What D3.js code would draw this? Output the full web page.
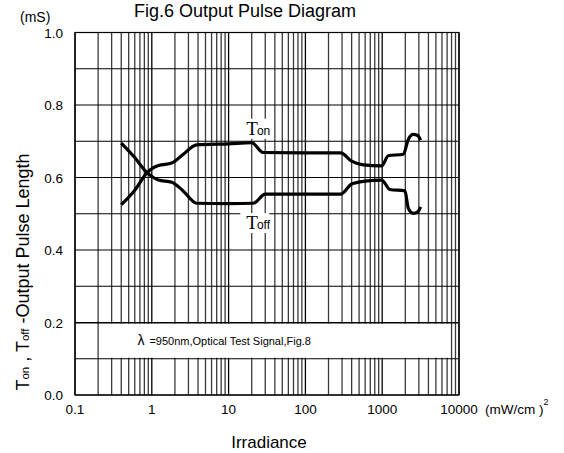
<!DOCTYPE html>
<html>
<head>
<meta charset="utf-8">
<script src="https://cdn.jsdelivr.net/npm/d3@7"></script>
<style>
  body { margin: 0; background: #fff; }
  text { font-family: "Liberation Sans", Arial, sans-serif; fill: #000; }
</style>
</head>
<body>
<div id="chart"></div>
<script>
// data
var xTicks = [0.1, 1, 10, 100, 1000, 10000];
var xTickLabels = ["0.1", "1", "10", "100", "1000", "10000"];
var yTicks = [0, 0.2, 0.4, 0.6, 0.8, 1.0];
var yTickLabels = ["0.0", "0.2", "0.4", "0.6", "0.8", "1.0"];

var tonX = [0.4, 0.6, 0.86, 1.05, 1.22, 1.82, 2.5, 3.85, 10, 20, 28, 100, 288, 400, 567, 985, 1200, 1885, 2187, 2540, 2900, 3160];
var tonY = [0.525, 0.565, 0.612, 0.627, 0.633, 0.640, 0.662, 0.690, 0.693, 0.696, 0.669, 0.668, 0.668, 0.645, 0.635, 0.632, 0.660, 0.664, 0.705, 0.719, 0.716, 0.703];

var toffX = [0.4, 0.6, 0.86, 1.05, 1.22, 1.82, 2.5, 3.85, 10, 21, 30, 100, 288, 400, 600, 985, 1260, 1980, 2187, 2540, 2900, 3160];
var toffY = [0.695, 0.655, 0.614, 0.600, 0.593, 0.587, 0.565, 0.529, 0.528, 0.529, 0.554, 0.554, 0.554, 0.582, 0.590, 0.593, 0.567, 0.563, 0.515, 0.501, 0.505, 0.519];

var W = 564, H = 453;
var margin = { top: 32.5, right: 105, bottom: 58, left: 75 };
var width = W - margin.left - margin.right,
    height = H - margin.top - margin.bottom;

var svg = d3.select("#chart").append("svg")
    .attr("width", W).attr("height", H);

var g = svg.append("g")
    .attr("transform", "translate(" + margin.left + "," + margin.top + ")");

var x = d3.scaleLog().domain([0.1, 10000]).range([0, width]);
var y = d3.scaleLinear().domain([0, 1]).range([height, 0]);

// vertical grid: 2..9 minor, decades darker
var minor = [];
[0.1, 1, 10, 100, 1000].forEach(function(dec) {
    for (var k = 2; k <= 9; k++) minor.push(dec * k);
});
g.selectAll(".vminor").data(minor).enter().append("line")
    .attr("x1", function(d) { return x(d); }).attr("x2", function(d) { return x(d); })
    .attr("y1", 0).attr("y2", height)
    .attr("stroke", "#3a3a3a").attr("stroke-width", 1.3);
g.selectAll(".vmajor").data(xTicks).enter().append("line")
    .attr("x1", function(d) { return x(d); }).attr("x2", function(d) { return x(d); })
    .attr("y1", 0).attr("y2", height)
    .attr("stroke", "#000").attr("stroke-width", 1.3);

// horizontal grid every 0.1
g.selectAll(".hgrid").data(d3.range(0, 11).map(function(i) { return i / 10; })).enter().append("line")
    .attr("x1", 0).attr("x2", width)
    .attr("y1", function(d) { return y(d); }).attr("y2", function(d) { return y(d); })
    .attr("stroke", "#000").attr("stroke-width", 1.2);

// legend box over the grid
g.append("rect")
    .attr("x", x(0.2) + 1).attr("y", y(0.2) + 1)
    .attr("width", x(7400) - x(0.2) - 1).attr("height", y(0.1) - y(0.2) - 2)
    .attr("fill", "#fff");
g.append("line")
    .attr("x1", 0).attr("x2", width).attr("y1", y(0.2) + 0.5).attr("y2", y(0.2) + 0.5)
    .attr("stroke", "#000").attr("stroke-width", 1.2);
var leg = g.append("text")
    .attr("x", x(0.65)).attr("y", y(0.15) + 4)
    .style("font-size", "11px");
leg.append("tspan").style("font-size", "14px").text("λ");
leg.append("tspan").attr("dx", 5).text("=950nm,Optical Test Signal,Fig.8");

// curves
var line = d3.line()
    .x(function(d) { return x(d[0]); })
    .y(function(d) { return y(d[1]); })
    .curve(d3.curveMonotoneX);

g.append("path").datum(d3.zip(tonX, tonY))
    .attr("d", line).attr("fill", "none")
    .attr("stroke", "#000").attr("stroke-width", 3.2);
g.append("path").datum(d3.zip(toffX, toffY))
    .attr("d", line).attr("fill", "none")
    .attr("stroke", "#000").attr("stroke-width", 3.2);

// curve labels
function curveLabel(vx, vy, sub) {
    var px = x(vx), py = y(vy);
    g.append("rect").attr("x", px - 6).attr("y", py - 16)
        .attr("width", 29).attr("height", 20).attr("fill", "#fff");
    var t = g.append("text").attr("x", px).attr("y", py);
    t.append("tspan").style("font-family", "'Liberation Serif', 'Times New Roman', serif")
        .style("font-size", "19px").text("T");
    t.append("tspan").attr("dx", -1).style("font-size", "12px").text(sub);
}
curveLabel(17, 0.718, "on");
curveLabel(17, 0.458, "off");

// frame
g.append("rect").attr("x", 0).attr("y", 0).attr("width", width).attr("height", height)
    .attr("fill", "none").attr("stroke", "#000").attr("stroke-width", 1.2);

// tick labels
g.selectAll(".xl").data(xTicks).enter().append("text")
    .attr("x", function(d) { return x(d); }).attr("y", height + 19)
    .attr("text-anchor", "middle").style("font-size", "13.5px")
    .text(function(d, i) { return xTickLabels[i]; });
g.selectAll(".yl").data(yTicks).enter().append("text")
    .attr("x", -12).attr("y", function(d) { return y(d) + 5; })
    .attr("text-anchor", "end").style("font-size", "13.5px")
    .text(function(d, i) { return yTickLabels[i]; });

// units
var unit = g.append("text").attr("x", width + 26).attr("y", height + 19).style("font-size", "13.5px");
unit.append("tspan").text("(mW/cm )");
unit.append("tspan").attr("dy", -9).style("font-size", "9px").text("2");
svg.append("text").attr("x", 20).attr("y", 22).style("font-size", "14px").text("(mS)");

// axis titles
svg.append("text").attr("x", margin.left + width / 2 + 2).attr("y", 448)
    .attr("text-anchor", "middle").style("font-size", "17px").text("Irradiance");

var yl = svg.append("text")
    .attr("transform", "translate(29," + 272 + ") rotate(-90)")
    .attr("text-anchor", "middle").style("font-size", "18px");
yl.append("tspan").text("T");
yl.append("tspan").style("font-size", "11.5px").text("on");
yl.append("tspan").text(" , T");
yl.append("tspan").style("font-size", "11.5px").text("off");
yl.append("tspan").text(" -Output Pulse Length");

// title
svg.append("text").attr("x", 245).attr("y", 17)
    .attr("text-anchor", "middle").style("font-size", "18px")
    .text("Fig.6 Output Pulse Diagram");
</script>
</body>
</html>
